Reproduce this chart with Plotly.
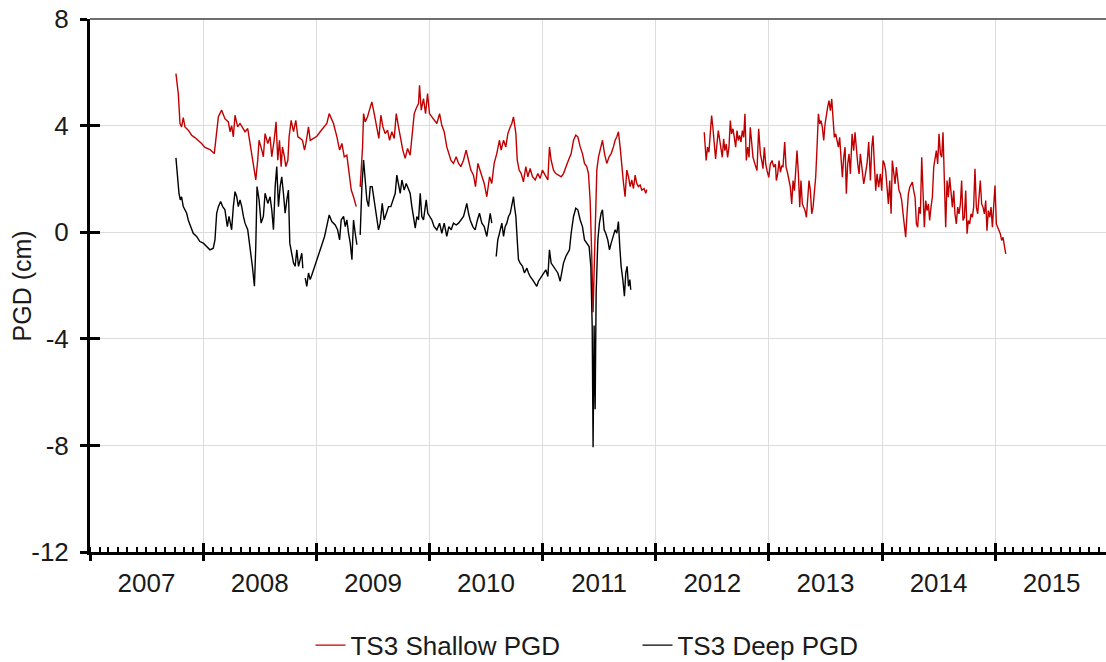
import plotly.graph_objects as go
from datetime import datetime

# ---------------- data (decimal years, PGD in cm) ----------------
shallow_years = [
    2007.760, 2007.781, 2007.796, 2007.810, 2007.825, 2007.840, 2007.869, 2007.899, 2007.928, 2007.958,
    2007.987, 2008.017, 2008.061, 2008.099, 2008.120, 2008.135, 2008.164, 2008.193, 2008.223, 2008.238,
    2008.252, 2008.267, 2008.282, 2008.305, 2008.326, 2008.347, 2008.370, 2008.394, 2008.415, 2008.435,
    2008.453, 2008.465, 2008.482, 2008.494, 2008.518, 2008.532, 2008.547, 2008.571, 2008.591, 2008.606,
    2008.627, 2008.644, 2008.659, 2008.674, 2008.689, 2008.700, 2008.718, 2008.730, 2008.748, 2008.759,
    2008.777, 2008.798, 2008.818, 2008.836, 2008.857, 2008.877, 2008.895, 2008.907, 2008.930, 2008.945,
    2008.974, 2009.004, 2009.033, 2009.063, 2009.092, 2009.113, 2009.136, 2009.151, 2009.181, 2009.205,
    2009.225, 2009.246, 2009.269, 2009.290, 2009.308, 2009.328, 2009.352, 2009.370, 2009.387, 2009.408,
    2009.417, 2009.431, 2009.452, 2009.470, 2009.490, 2009.511, 2009.535, 2009.552, 2009.570, 2009.588,
    2009.608, 2009.629, 2009.647, 2009.667, 2009.688, 2009.706, 2009.726, 2009.747, 2009.764, 2009.785,
    2009.806, 2009.829, 2009.844, 2009.865, 2009.882, 2009.903, 2009.912, 2009.927, 2009.947, 2009.965,
    2009.983, 2010.000, 2010.021, 2010.041, 2010.065, 2010.089, 2010.109, 2010.130, 2010.153, 2010.171,
    2010.189, 2010.212, 2010.236, 2010.257, 2010.277, 2010.301, 2010.324, 2010.345, 2010.366, 2010.389,
    2010.407, 2010.428, 2010.448, 2010.466, 2010.484, 2010.507, 2010.531, 2010.551, 2010.572, 2010.595,
    2010.619, 2010.634, 2010.655, 2010.675, 2010.693, 2010.714, 2010.728, 2010.743, 2010.752, 2010.764,
    2010.776, 2010.793, 2010.811, 2010.831, 2010.852, 2010.870, 2010.890, 2010.911, 2010.935, 2010.958,
    2010.979, 2010.999, 2011.023, 2011.047, 2011.061, 2011.076, 2011.097, 2011.117, 2011.141, 2011.165,
    2011.185, 2011.206, 2011.229, 2011.253, 2011.274, 2011.294, 2011.312, 2011.333, 2011.353, 2011.371,
    2011.391, 2011.406, 2011.421, 2011.436, 2011.447, 2011.459, 2011.471, 2011.480, 2011.495, 2011.512,
    2011.530, 2011.548, 2011.568, 2011.589, 2011.607, 2011.627, 2011.642, 2011.657, 2011.671, 2011.686,
    2011.701, 2011.716, 2011.730, 2011.745, 2011.760, 2011.775, 2011.789, 2011.804, 2011.819, 2011.833,
    2011.848, 2011.863, 2011.878, 2011.898, 2011.913, 2011.922, 2012.200,
    2012.429, 2012.438, 2012.446, 2012.458, 2012.470, 2012.482, 2012.494, 2012.505, 2012.517, 2012.529,
    2012.541, 2012.553, 2012.564, 2012.576, 2012.588, 2012.600, 2012.611, 2012.623, 2012.635, 2012.647,
    2012.659, 2012.670, 2012.682, 2012.694, 2012.706, 2012.718, 2012.729, 2012.741, 2012.753, 2012.765,
    2012.777, 2012.788, 2012.800, 2012.812, 2012.824, 2012.835, 2012.847, 2012.859, 2012.871, 2012.883,
    2012.894, 2012.909, 2012.924, 2012.936, 2012.947, 2012.959, 2012.971, 2012.983, 2012.998, 2013.012,
    2013.027, 2013.042, 2013.057, 2013.065, 2013.077, 2013.089, 2013.101, 2013.113, 2013.124, 2013.139,
    2013.151, 2013.163, 2013.174, 2013.189, 2013.201, 2013.213, 2013.225, 2013.236, 2013.248, 2013.260,
    2013.272, 2013.283, 2013.295, 2013.307, 2013.319, 2013.331, 2013.342, 2013.354, 2013.366, 2013.378,
    2013.390, 2013.401, 2013.413, 2013.425, 2013.437, 2013.449, 2013.460, 2013.472, 2013.484, 2013.496,
    2013.507, 2013.519, 2013.531, 2013.543, 2013.555, 2013.566, 2013.578, 2013.590, 2013.602, 2013.614,
    2013.625, 2013.637, 2013.649, 2013.661, 2013.673, 2013.684, 2013.696, 2013.708, 2013.720, 2013.735,
    2013.749, 2013.761, 2013.773, 2013.785, 2013.797, 2013.808, 2013.823, 2013.838, 2013.853, 2013.867,
    2013.882, 2013.897, 2013.909, 2013.920, 2013.932, 2013.944, 2013.956, 2013.970, 2013.985, 2013.997,
    2014.009, 2014.021, 2014.032, 2014.044, 2014.056, 2014.068, 2014.080, 2014.091, 2014.103, 2014.115,
    2014.127, 2014.138, 2014.150, 2014.162, 2014.174, 2014.186, 2014.197, 2014.209, 2014.221, 2014.233,
    2014.245, 2014.256, 2014.268, 2014.280, 2014.292, 2014.304, 2014.315, 2014.327, 2014.339, 2014.351,
    2014.363, 2014.374, 2014.386, 2014.398, 2014.410, 2014.421, 2014.433, 2014.445, 2014.457, 2014.469,
    2014.480, 2014.492, 2014.504, 2014.516, 2014.528, 2014.539, 2014.551, 2014.563, 2014.575, 2014.586,
    2014.598, 2014.610, 2014.622, 2014.634, 2014.645, 2014.657, 2014.669, 2014.681, 2014.693, 2014.704,
    2014.716, 2014.728, 2014.740, 2014.752, 2014.763, 2014.775, 2014.787, 2014.799, 2014.810, 2014.822,
    2014.834, 2014.846, 2014.858, 2014.869, 2014.881, 2014.893, 2014.905, 2014.917, 2014.928, 2014.940,
    2014.952, 2014.964, 2014.976, 2014.987, 2014.999, 2015.011, 2015.023, 2015.035, 2015.046, 2015.058,
    2015.070, 2015.082, 2015.094,
]
shallow_pgd = [
    5.95, 5.20, 4.08, 3.95, 4.30, 3.95, 3.83, 3.64, 3.55, 3.45,
    3.33, 3.18, 3.10, 2.95, 3.70, 4.33, 4.58, 4.26, 4.14, 3.77,
    4.00, 3.58, 4.39, 3.95, 4.08, 3.95, 3.77, 3.89, 3.33, 2.70,
    2.33, 1.96, 2.70, 3.45, 3.08, 2.83, 3.70, 3.33, 3.58, 2.83,
    3.45, 4.14, 2.70, 3.45, 2.46, 3.20, 2.83, 2.46, 2.70, 3.58,
    4.20, 3.77, 4.20, 3.58, 3.52, 3.45, 3.08, 3.33, 3.95, 3.45,
    3.52, 3.60, 3.77, 3.95, 4.08, 4.45, 4.20, 4.08, 3.58, 3.08,
    3.33, 2.83, 2.89, 2.20, 1.58, 1.33, 0.96, None, 1.70, 3.20,
    4.45, 4.14, 4.33, 4.58, 4.89, 4.45, 3.95, 3.52, 4.39, 3.95,
    3.70, 3.83, 3.45, 3.77, 3.52, 4.45, 3.95, 3.39, 3.08, 2.77,
    3.14, 2.89, 3.45, 4.45, 4.64, 4.83, 5.51, 4.58, 5.01, 4.45,
    5.20, 4.45, 4.33, 4.20, 4.08, 4.45, 4.01, 3.77, 3.20, 2.95,
    2.70, 2.58, 2.83, 2.58, 2.46, 2.70, 3.08, 2.70, 2.33, 2.14,
    1.71, 2.58, 2.33, 2.02, 1.83, 1.33, 2.08, 1.83, 2.58, 2.95,
    3.45, 3.08, 3.45, 3.20, 3.70, 3.95, 4.08, 4.33, 4.10, 3.70,
    2.70, 2.33, 2.20, 1.89, 2.46, 2.08, 2.39, 2.08, 1.96, 2.20,
    2.02, 2.33, 2.14, 1.96, 3.20, 2.70, 2.33, 2.20, 2.14, 2.08,
    2.20, 2.46, 2.70, 2.95, 3.45, 3.64, 3.58, 3.20, 2.95, 2.58,
    2.46, 2.20, 1.20, -1.03, -3.00, -1.00, 1.20, 2.33, 2.83, 3.20,
    3.45, 2.95, 2.58, 2.83, 2.95, 3.20, 3.45, 3.58, 3.77, 3.20,
    2.33, 1.83, 1.33, 2.33, 2.08, 1.71, 1.96, 1.64, 2.14, 1.83,
    1.71, 1.77, 1.58, 1.64, 1.46, 1.60, None,
    3.75, 3.06, 2.69, 3.19, 3.00, 3.69, 4.38, 3.94, 3.19, 2.75,
    3.31, 3.81, 3.50, 3.19, 2.81, 3.50, 3.06, 3.31, 2.81, 3.19,
    4.19, 3.69, 3.88, 3.56, 3.19, 3.81, 3.44, 3.63, 3.38, 3.81,
    3.56, 4.44, 2.69, 3.19, 2.81, 3.94, 3.19, 2.81, 2.63, 2.44,
    2.31, 3.88, 2.94, 2.69, 2.38, 3.19, 2.56, 2.31, 2.06, 2.56,
    2.69, 2.44, 2.56, 1.94, 2.19, 2.69, 2.25, 2.50, 2.44, 3.38,
    2.44, 2.25, 2.06, 1.69, 1.06, 1.94, 1.56, 2.31, 3.06, 2.19,
    0.94, 1.94, 1.06, 0.94, 0.81, 0.56, 1.31, 1.94, 1.56, 0.69,
    0.94, 1.44, 2.06, 3.19, 4.44, 4.06, 4.19, 3.94, 3.44, 4.06,
    4.44, 4.69, 4.94, 4.56, 5.00, 4.06, 3.56, 3.69, 3.44, 3.19,
    3.56, 2.69, 2.06, 2.81, 3.19, 1.44, 2.56, 2.94, 2.19, 3.69,
    3.06, 3.75, 2.94, 2.56, 2.19, 2.94, 2.38, 1.81, 2.19, 2.56,
    3.38, 1.94, 3.19, 3.63, 2.56, 1.56, 2.19, 1.69, 2.19, 1.56,
    2.69, 2.56, 2.31, 1.69, 1.06, 1.94, 0.69, 2.69, 2.31, 1.81,
    2.44, 1.94, 1.56, 1.44, 1.19, 0.69, 0.31, -0.19, 0.69, 1.44,
    1.69, 1.81, 1.88, 1.56, 1.31, 0.31, 0.19, 0.94, 0.69, 2.81,
    1.44, 0.19, 1.19, 0.81, 1.06, 0.44, 0.94, 1.31, 2.44, 2.69,
    3.06, 2.56, 3.69, 2.94, 2.81, 3.75, 1.81, 0.19, 1.94, 1.31,
    2.06, 1.44, 0.94, 1.56, 0.69, 0.31, 0.94, 0.69, 1.06, 1.94,
    0.44, 0.56, 1.56, -0.06, 0.44, 0.31, 0.69, 0.56, 0.94, 2.38,
    0.94, 0.69, 1.44, 1.94, 1.06, 0.94, 0.69, 1.19, 0.06, 0.81,
    0.56, 0.94, 0.19, 0.81, 1.75, 0.31, 0.19, 0.06, -0.06, -0.31,
    -0.19, -0.50, -0.81,
]

deep_years = [
    2007.760, 2007.775, 2007.787, 2007.799, 2007.810, 2007.825, 2007.840, 2007.855, 2007.869, 2007.893,
    2007.913, 2007.943, 2007.972, 2008.002, 2008.031, 2008.061, 2008.090, 2008.105, 2008.120, 2008.135,
    2008.155, 2008.173, 2008.193, 2008.214, 2008.229, 2008.252, 2008.267, 2008.282, 2008.297, 2008.311,
    2008.326, 2008.341, 2008.356, 2008.370, 2008.394, 2008.415, 2008.435, 2008.453, 2008.465, 2008.476,
    2008.494, 2008.512, 2008.532, 2008.547, 2008.571, 2008.591, 2008.606, 2008.621, 2008.636, 2008.650,
    2008.665, 2008.680, 2008.694, 2008.709, 2008.724, 2008.739, 2008.753, 2008.765, 2008.783, 2008.798,
    2008.812, 2008.827, 2008.842, 2008.857, 2008.871, 2008.880, 2008.890, 2008.901, 2008.915, 2008.930,
    2008.945, 2008.960, 2008.983, 2009.004, 2009.025, 2009.048, 2009.072, 2009.092, 2009.113, 2009.136,
    2009.166, 2009.187, 2009.205, 2009.219, 2009.240, 2009.255, 2009.269, 2009.284, 2009.299, 2009.314,
    2009.328, 2009.343, 2009.358, 2009.372, 2009.387, 2009.402, 2009.417, 2009.431, 2009.446, 2009.461,
    2009.476, 2009.493, 2009.511, 2009.529, 2009.549, 2009.564, 2009.582, 2009.599, 2009.617, 2009.638,
    2009.658, 2009.676, 2009.697, 2009.711, 2009.726, 2009.741, 2009.756, 2009.776, 2009.794, 2009.815,
    2009.829, 2009.844, 2009.859, 2009.874, 2009.888, 2009.903, 2009.918, 2009.932, 2009.947, 2009.971,
    2009.985, 2010.000, 2010.021, 2010.041, 2010.065, 2010.089, 2010.109, 2010.130, 2010.153, 2010.171,
    2010.192, 2010.212, 2010.236, 2010.257, 2010.277, 2010.301, 2010.316, 2010.330, 2010.345, 2010.360,
    2010.383, 2010.404, 2010.424, 2010.442, 2010.463, 2010.484, 2010.507, 2010.522, 2010.537, 2010.551,
    2010.570, 2010.590, 2010.604, 2010.619, 2010.640, 2010.655, 2010.669, 2010.684, 2010.699, 2010.714,
    2010.728, 2010.743, 2010.752, 2010.764, 2010.776, 2010.787, 2010.802, 2010.823, 2010.840, 2010.861,
    2010.876, 2010.890, 2010.911, 2010.929, 2010.949, 2010.964, 2010.988, 2011.008, 2011.029, 2011.047,
    2011.061, 2011.076, 2011.097, 2011.117, 2011.135, 2011.156, 2011.170, 2011.185, 2011.206, 2011.223,
    2011.238, 2011.253, 2011.274, 2011.294, 2011.312, 2011.333, 2011.353, 2011.371, 2011.391, 2011.412,
    2011.427, 2011.439, 2011.447, 2011.456, 2011.465, 2011.474, 2011.489, 2011.503, 2011.518, 2011.530,
    2011.545, 2011.559, 2011.577, 2011.592, 2011.607, 2011.627, 2011.642, 2011.657, 2011.671, 2011.683,
    2011.695, 2011.710, 2011.724, 2011.736, 2011.748, 2011.760, 2011.772, 2011.780,
]
deep_pgd = [
    2.79, 2.08, 1.46, 1.21, 1.33, 0.96, 0.84, 0.71, 0.46, 0.21,
    -0.04, -0.16, -0.35, -0.41, -0.54, -0.66, -0.60, -0.29, 0.71, 0.96,
    1.15, 0.96, 0.84, 0.21, 0.59, 0.09, 0.96, 1.52, 1.33, 0.96,
    1.21, 0.96, 0.59, 0.34, 0.09, -0.54, -1.28, -2.03, -0.54, 1.71,
    1.21, 0.34, 0.59, 1.46, 1.08, 1.33, 0.84, 0.09, 1.71, 2.46,
    0.96, 1.71, 2.08, 1.46, 0.71, 1.21, 1.58, -0.41, -0.91, -1.16,
    -1.28, -0.66, -1.28, -1.03, -0.79, -1.35, None, -1.72, -2.03, -1.53,
    -1.78, -1.60, -1.28, -1.03, -0.79, -0.47, -0.16, 0.21, 0.65, 0.40,
    0.27, 0.09, -0.29, 0.46, 0.59, 0.21, 0.46, -0.04, -0.41, -1.03,
    0.46, -0.04, -0.47, None, -0.10, 1.71, 2.71, 1.83, 1.21, 0.96,
    1.71, 1.71, 1.21, 0.59, 0.09, 0.34, 1.08, 0.46, 0.71, 0.96,
    0.96, 1.21, 1.46, 2.14, 1.83, 1.46, 1.96, 1.58, 1.83, 1.64,
    1.46, 0.96, 0.46, 0.15, 0.59, 0.46, 1.46, 0.59, 0.46, 1.21,
    0.71, 0.59, 0.46, 0.21, 0.09, 0.34, -0.04, 0.34, -0.16, 0.21,
    0.09, 0.34, 0.27, 0.34, 0.46, 0.59, 0.84, 1.08, 0.71, 0.46,
    0.21, 0.09, 0.46, 0.71, 0.34, 0.21, -0.16, 0.21, 0.71, 0.34,
    None, -0.91, -0.29, -0.04, 0.34, -0.16, 0.21, 0.34, 0.59, 0.71,
    0.96, 1.33, 0.96, 0.59, -0.29, -1.03, -1.16, -1.28, -1.53, -1.35,
    -1.53, -1.66, -1.78, -1.91, -2.03, -1.84, -1.66, -1.53, -1.41, -1.66,
    -0.66, -1.16, -1.28, -1.41, -1.53, -1.84, -1.53, -1.16, -0.91, -0.79,
    -0.66, -0.04, 0.59, 0.90, 0.84, 0.46, 0.21, -0.29, -0.41, -0.54,
    -1.28, -3.53, -8.07, -3.50, -6.64, -2.28, -0.29, 0.34, 0.71, 0.84,
    0.09, -0.04, -0.29, -0.66, -0.41, -0.16, 0.09, -0.04, 0.40, -0.54,
    -1.28, -1.78, -2.40, -1.53, -1.28, -2.03, -1.78, -2.16,
]

y_tick_vals = [-12, -8, -4, 0, 4, 8]
y_tick_text = ["-12", "-8", "-4", "0", "4", "8"]
y_title = "PGD (cm)"
x_range = ["2007-01-01", "2015-12-25"]
y_range = [-12, 8]


def to_date(y):
    yr = int(y)
    a = datetime(yr, 1, 1)
    b = datetime(yr + 1, 1, 1)
    return a + (b - a) * (y - yr)


FONT = "Liberation Sans, Arial, sans-serif"
RED = "#c00000"
TXT = "#1a1a1a"

fig = go.Figure()
fig.add_trace(go.Scatter(
    x=[to_date(v) for v in shallow_years], y=shallow_pgd, mode="lines",
    name="TS3 Shallow PGD", line=dict(color=RED, width=1.4),
    xaxis="x", yaxis="y",
))
fig.add_trace(go.Scatter(
    x=[to_date(v) for v in deep_years], y=deep_pgd, mode="lines",
    name="TS3 Deep PGD", line=dict(color="#000000", width=1.4),
    xaxis="x2", yaxis="y2",
))

common_x = dict(type="date", range=x_range, tick0="2007-01-01", dtick="M12")
common_y = dict(range=y_range, tickvals=y_tick_vals)

fig.update_layout(
    template="none",
    width=1106, height=662,
    margin=dict(l=90, r=0, t=19, b=110, autoexpand=False),
    paper_bgcolor="white", plot_bgcolor="white",
    font=dict(family=FONT, size=25, color=TXT),
    showlegend=True,
    legend=dict(orientation="h", x=0.217, xanchor="left", y=-0.219, yanchor="bottom",
                entrywidth=282, entrywidthmode="pixels",
                font=dict(size=26, family=FONT, color=TXT), bgcolor="rgba(0,0,0,0)"),
    xaxis=dict(**common_x, ticklabelmode="period", tickformat="%Y",
               showgrid=True, gridcolor="#dcdcdc", gridwidth=1,
               showline=True, linecolor="#000000", linewidth=3,
               ticks="outside", ticklen=6, tickwidth=3, tickcolor="#000000",
               ticklabelstandoff=0,
               tickfont=dict(size=26, family=FONT, color=TXT),
               minor=dict(dtick="M1", ticks="inside", ticklen=5, tickwidth=2,
                          tickcolor="#000000", showgrid=False),
               zeroline=False),
    yaxis=dict(**common_y, ticktext=y_tick_text,
               showgrid=True, gridcolor="#dcdcdc", gridwidth=1,
               showline=True, linecolor="#000000", linewidth=3,
               ticks="outside", ticklen=7, tickwidth=3, tickcolor="#000000",
               ticklabelstandoff=6,
               tickfont=dict(size=26, family=FONT, color=TXT),
               zeroline=False),
    xaxis2=dict(**common_x, overlaying="x", anchor="y2", side="bottom",
                showgrid=False, showline=False, showticklabels=False,
                ticks="inside", ticklen=9, tickwidth=3, tickcolor="#000000", zeroline=False),
    yaxis2=dict(**common_y, overlaying="y", anchor="x2", side="left",
                showgrid=False, showline=False, showticklabels=False,
                ticks="inside", ticklen=10, tickwidth=3, tickcolor="#000000", zeroline=False),
    shapes=[dict(type="line", xref="paper", yref="paper", x0=0, x1=1, y0=1, y1=1,
                 line=dict(color="#6e6e6e", width=2))],
    annotations=[dict(text=y_title, xref="paper", yref="paper", x=-0.067, y=0.5,
                      xanchor="center", yanchor="middle", textangle=-90, showarrow=False,
                      font=dict(size=25, family=FONT, color=TXT))],
)

fig.write_html("out.html")
